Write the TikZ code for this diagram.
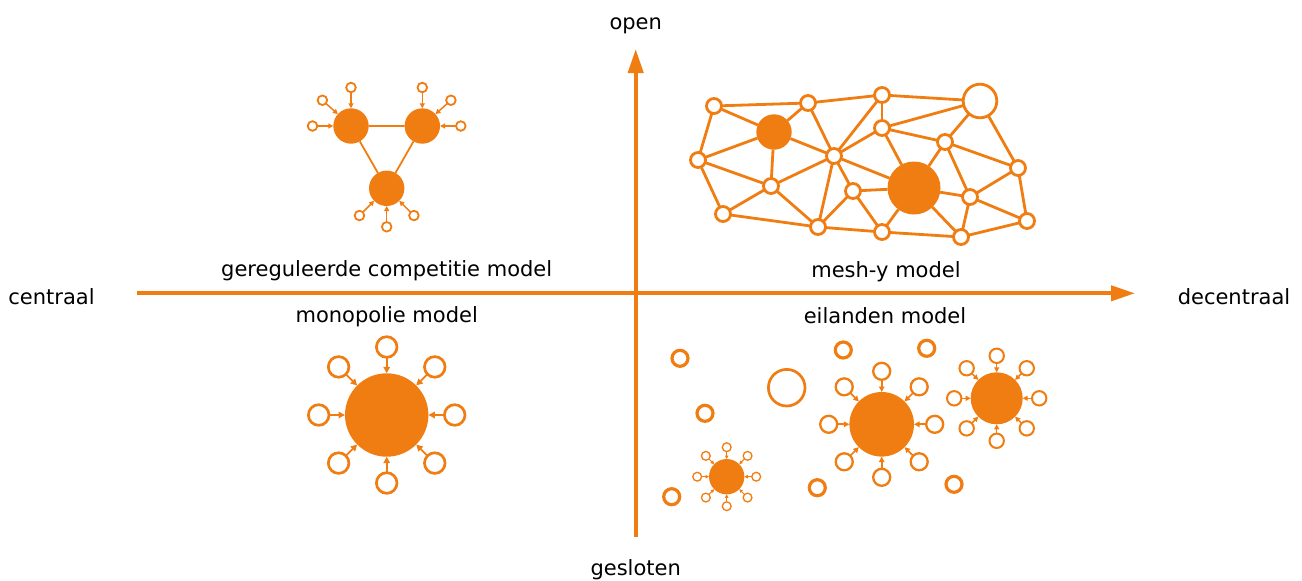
\documentclass[tikz,border=0pt]{standalone}
\usepackage{fontspec}
\setmainfont{DejaVu Sans}
\usetikzlibrary{arrows.meta,calc}
\definecolor{orng}{RGB}{240,125,18}
\begin{document}
\begin{tikzpicture}[x=1pt,y=-1pt,
  lbl/.style={anchor=base,inner sep=0pt,font=\fontsize{21}{25}\selectfont,text=black},
  hubfill/.style={circle,fill=orng,draw=none,inner sep=0pt,outer sep=0pt},
  opencirc/.style={circle,draw=orng,fill=white,inner sep=0pt,outer sep=0pt},
  axis/.style={draw=orng,line width=4pt,-{Triangle[length=24pt,width=15pt]}},
  meshedge/.style={draw=orng,line width=2.8pt},
  arr/.style={draw=orng,-{Triangle[length=#1,width=#1]}}
]
\useasboundingbox (0,0) rectangle (1302,581);

% axes
\coordinate (axL) at (137,293.3);
\coordinate (axR) at (1135,293.3);
\coordinate (axB) at (635.7,537);
\coordinate (axT) at (635.7,49);
\draw[axis] (axL) -- (axR);
\draw[axis] (axB) -- (axT);

% labels
\node[lbl] (lopen) at (635.7,29) {open};
\node[lbl] (lgesl) at (635.7,575) {gesloten};
\node[lbl] (lcen) at (51.5,304.3) {centraal};
\node[lbl] (ldec) at (1234,304.3) {decentraal};
\node[lbl] (lgc) at (386.7,276) {gereguleerde competitie model};
\node[lbl] (lmono) at (386.7,322.7) {monopolie model};
\node[lbl] (lmesh) at (886,277.3) {mesh-y model};
\node[lbl] (leil) at (885,323.3) {eilanden model};

% ---------- gereguleerde competitie ----------
\node[hubfill,minimum size=35.4] (X1) at (351,126) {};
\node[hubfill,minimum size=35.4] (X2) at (422.3,126) {};
\node[hubfill,minimum size=35.4] (X3) at (386.7,188.3) {};
\draw[draw=orng,line width=1.8pt] (X1) -- (X2) -- (X3) -- (X1);
\foreach \h/\angs in {X1/{-90,-138,180},X2/{-90,-42,0},X3/{90,135,45}}{
  \foreach \a in \angs {
    \node[opencirc,line width=1.8pt,minimum size=9.6] (\h s\a) at ($(\h.center)+(\a:38.5)$) {};
    \draw[arr=5pt,line width=1.5pt] (\h s\a) -- (\h);
  }
}

% ---------- monopolie ----------
\node[hubfill,minimum size=83.4] (mono) at (386.7,415) {};
\foreach \a in {0,45,...,315}{
  \node[opencirc,line width=2.7pt,minimum size=20.6] (mono\a) at ($(mono.center)+(\a:68)$) {};
  \draw[arr=6.5pt,line width=1.8pt] (mono\a) -- (mono);
}

% ---------- mesh-y ----------
\foreach \n/\x/\y in {A/714/106,B/808/103,C/882/95,F/882/128,G/945/142,H/698/160,I/834/156,J/1018/168,K/771/186,L/853/191,N/970/197,O/723/214,P/818/227,Q/882/232,R/961/237,S/1027/221}{
  \node[opencirc,line width=2.8pt,minimum size=15] (m\n) at (\x,\y) {};
}
\node[opencirc,line width=2.8pt,minimum size=33.6] (mD) at (980,101) {};
\node[hubfill,minimum size=35.4] (mE) at (774,132) {};
\node[hubfill,minimum size=53] (mM) at (914,188) {};
\foreach \u/\v in {A/B,A/E,A/H,B/C,B/E,B/I,C/D,C/F,C/I,D/F,D/G,D/J,E/H,E/K,E/I,F/G,F/I,F/M,G/M,G/J,G/N,H/K,H/O,I/K,I/P,I/L,I/M,J/N,J/S,K/O,K/P,L/M,L/P,L/Q,M/Q,M/R,M/N,N/R,N/S,O/P,P/Q,Q/R,R/S}{
  \draw[meshedge] (m\u) -- (m\v);
}

% ---------- eilanden ----------
\foreach \n/\x/\y in {1/680/358.3,2/705/413.3,3/843.3/350,4/926.7/348.3,5/817.3/487.7,6/954/484.3,7/671.7/496.7}{
  \node[opencirc,line width=3.2pt,minimum size=16] (iso\n) at (\x,\y) {};
}
\node[opencirc,line width=2.7pt,minimum size=36.6] (isobig) at (786.7,387.7) {};

\node[hubfill,minimum size=35.4] (hA) at (726.7,476.7) {};
\foreach \a in {0,45,...,315}{
  \node[opencirc,line width=1.3pt,minimum size=8.8] (hA\a) at ($(hA.center)+(\a:29.5)$) {};
  \draw[arr=3.5pt,line width=1pt] (hA\a) -- (hA);
}
\node[hubfill,minimum size=64.6] (hB) at (881.7,424.3) {};
\foreach \a in {0,45,...,315}{
  \node[opencirc,line width=2.3pt,minimum size=17] (hB\a) at ($(hB.center)+(\a:53)$) {};
  \draw[arr=5.5pt,line width=1.7pt] (hB\a) -- (hB);
}
\node[hubfill,minimum size=52] (hC) at (996.7,398.3) {};
\foreach \a in {0,45,...,315}{
  \node[opencirc,line width=2pt,minimum size=14.4] (hC\a) at ($(hC.center)+(\a:42.5)$) {};
  \draw[arr=5pt,line width=1.5pt] (hC\a) -- (hC);
}
\end{tikzpicture}
\end{document}
